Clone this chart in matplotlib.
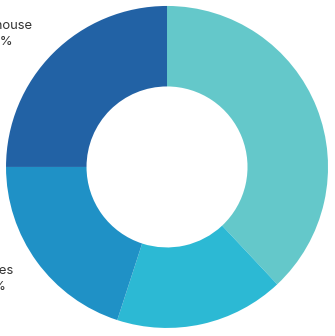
import matplotlib
matplotlib.use("Agg")
import matplotlib.pyplot as plt

# data (clockwise from 12 o'clock)
categories = ["Retail", "Industrial", "Offices", "Warehouse"]
shares = [38, 17, 20, 25]
colors = ["#64C8CA", "#2CB9D4", "#1F91C6", "#2262A5"]

# labels visible on the left side (partly cut off in the crop)
label_names = ["Warehouse", "Offices"]
label_values = ["25%", "20%"]

plt.rcParams["font.family"] = ["Inter", "DejaVu Sans"]

fig = plt.figure(figsize=(3.35, 3.36), dpi=100)
ax = fig.add_axes([0, 0, 1, 1])

ax.pie(shares, colors=colors, startangle=90, counterclock=False,
       radius=1.0, wedgeprops=dict(width=0.5, linewidth=0))

# label positions in data units
lab_x = [-1.05, -1.093]
lab_y = [0.826, -0.696]
for name, val, x, y in zip(label_names, label_values, lab_x, lab_y):
    ax.text(x, y, name + "\n" + val, ha="center", va="center",
            fontsize=9.4, color="#333333", linespacing=1.4)

ax.set_xlim(-1.037, 1.043)
ax.set_ylim(-1.050, 1.037)
ax.set_aspect("equal")
ax.axis("off")

fig.savefig("out.png", dpi=100)
